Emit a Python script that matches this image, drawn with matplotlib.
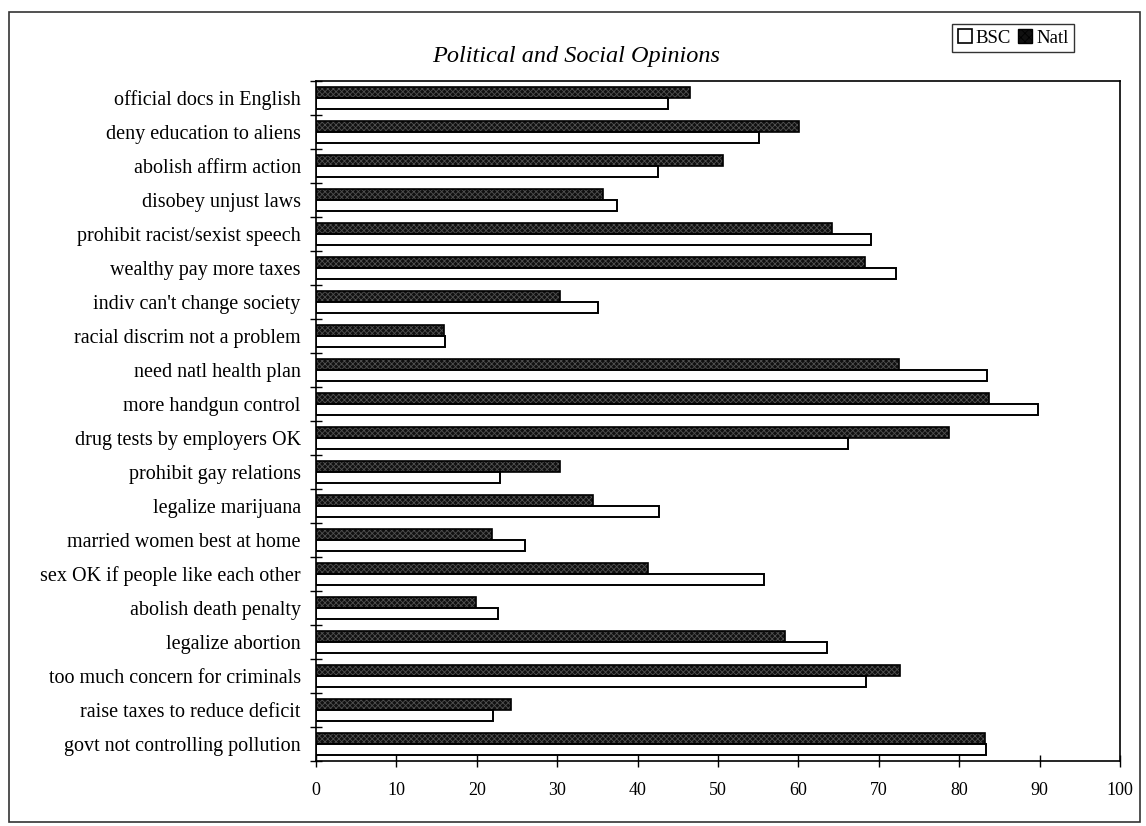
"""
opinions_chart.py

Horizontal bar chart comparing BSC survey answers with national figures
on a set of political and social opinion items (percent agreeing).
"""

import matplotlib
matplotlib.use('Agg')
import matplotlib.pyplot as plt
from matplotlib.patches import Rectangle

# ===== DATA =====
items = [
    'official docs in English',
    'deny education to aliens',
    'abolish affirm action',
    'disobey unjust laws',
    'prohibit racist/sexist speech',
    'wealthy pay more taxes',
    "indiv can't change society",
    'racial discrim not a problem',
    'need natl health plan',
    'more handgun control',
    'drug tests by employers OK',
    'prohibit gay relations',
    'legalize marijuana',
    'married women best at home',
    'sex OK if people like each other',
    'abolish death penalty',
    'legalize abortion',
    'too much concern for criminals',
    'raise taxes to reduce deficit',
    'govt not controlling pollution',
]

bsc = [43.8, 55.1, 42.5, 37.4, 69.0, 72.1, 35.1, 16.0, 83.4, 89.8,
       66.2, 22.9, 42.7, 26.0, 55.7, 22.7, 63.6, 68.4, 22.0, 83.3]
natl = [46.5, 60.1, 50.6, 35.7, 64.2, 68.3, 30.3, 15.9, 72.5, 83.7,
        78.7, 30.3, 34.4, 21.9, 41.3, 19.9, 58.3, 72.6, 24.2, 83.2]

xticks = [0, 10, 20, 30, 40, 50, 60, 70, 80, 90, 100]

# ===== STYLE =====
plt.rcParams['font.family'] = ['Liberation Serif', 'DejaVu Serif']
plt.rcParams['hatch.color'] = '#505050'
plt.rcParams['hatch.linewidth'] = 0.6

bar_h = 0.33
dark = '#101010'


def draw_chart():
    fig = plt.figure(figsize=(11.46, 8.26), dpi=100)
    ax = fig.add_axes([0.2757, 0.0787, 0.7016, 0.8233])

    pos = list(range(len(items)))
    natl_pos = [p - bar_h / 2 for p in pos]
    bsc_pos = [p + bar_h / 2 for p in pos]

    # national bars: dark fill with a fine grey cross-hatch
    ax.barh(natl_pos, natl, height=bar_h, color=dark, hatch='xxxxxx',
            linewidth=0)
    ax.barh(natl_pos, natl, height=bar_h, fill=False, edgecolor='black',
            linewidth=1.2)
    # BSC bars: open boxes
    ax.barh(bsc_pos, bsc, height=bar_h, facecolor='white',
            edgecolor='black', linewidth=1.4)

    ax.set_xlim(0, 100)
    ax.set_ylim(len(items) - 0.5, -0.5)
    ax.set_xticks(xticks)
    ax.set_xticklabels([str(t) for t in xticks], fontsize=13)

    # category ticks sit on the boundaries, labels in the middle
    ax.set_yticks([p - 0.5 for p in pos] + [len(items) - 0.5])
    ax.set_yticklabels([])
    ax.set_yticks(pos, minor=True)
    ax.set_yticklabels(items, minor=True, fontsize=14.5)
    ax.tick_params(axis='y', which='minor', length=0, pad=11)
    ax.tick_params(axis='y', which='major', direction='inout', length=8,
                   width=1)
    ax.tick_params(axis='x', direction='inout', length=8, width=1, pad=11)

    for sp in ax.spines.values():
        sp.set_linewidth(1.2)

    fig.text(0.503, 0.931, 'Political and Social Opinions', ha='center',
             va='center', fontsize=17.5, style='italic')

    # legend box in the top right corner
    handles = [
        Rectangle((0, 0), 1, 1, facecolor='white', edgecolor='black',
                  linewidth=1.2),
        Rectangle((0, 0), 1, 1, facecolor=dark, edgecolor='black',
                  hatch='xxxx', linewidth=1.0),
    ]
    leg = fig.legend(handles, ['BSC', 'Natl'], loc='center',
                     bbox_to_anchor=(0.884, 0.954), ncol=2, fontsize=13.5,
                     frameon=True, fancybox=False, edgecolor='black',
                     handlelength=0.75, handleheight=0.75,
                     handletextpad=0.2, columnspacing=0.4, borderpad=0.3,
                     borderaxespad=0)
    leg.get_frame().set_linewidth(1.0)

    # outer chart border
    fig.patches.append(Rectangle((0.008, 0.005), 0.987, 0.98,
                                 transform=fig.transFigure, fill=False,
                                 edgecolor='#333333', linewidth=1.2))

    fig.savefig('out.png', dpi=100, facecolor='white')


if __name__ == "__main__":
    draw_chart()
